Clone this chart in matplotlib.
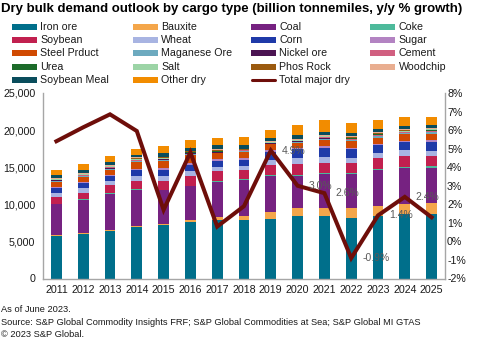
import matplotlib.pyplot as plt
from matplotlib.patches import Rectangle
from matplotlib.lines import Line2D
import numpy as np

plt.rcParams['font.family'] = ['Liberation Sans', 'DejaVu Sans']

years = ['2011', '2012', '2013', '2014', '2015', '2016', '2017', '2018',
         '2019', '2020', '2021', '2022', '2023', '2024', '2025']

# billion tonnemiles
iron_ore = [5730, 6000, 6400, 6940, 7200, 7600, 7900, 7900, 8000, 8430, 8430, 8150, 8430, 8700, 8700]
bauxite = [80, 130, 130, 130, 130, 270, 400, 540, 940, 1080, 1080, 1350, 1390, 1350, 1480]
coal = [4180, 4450, 4850, 4850, 4580, 4580, 4720, 4850, 4850, 4310, 4580, 4580, 4810, 4850, 4720]
coke = [60, 100, 80, 80, 80, 80, 80, 100, 100, 120, 100, 100, 100, 100, 200]
soybean = [940, 800, 1080, 1200, 1200, 1350, 1350, 1200, 1350, 1480, 1440, 1350, 1480, 1480, 1350]
wheat = [580, 670, 580, 670, 670, 670, 540, 540, 670, 800, 750, 670, 770, 800, 800]
corn = [630, 720, 670, 800, 800, 800, 800, 800, 1100, 1200, 1270, 1200, 1020, 1080, 1080]
sugar = [130, 100, 200, 130, 270, 270, 270, 270, 270, 200, 150, 150, 100, 130, 270]
steel = [720, 720, 670, 850, 940, 1080, 800, 850, 800, 670, 900, 940, 900, 940, 940]
manganese = [120, 120, 150, 150, 120, 120, 120, 100, 90, 120, 150, 150, 170, 150, 180]
nickel = [60, 70, 80, 80, 60, 60, 60, 50, 50, 60, 80, 80, 90, 80, 90]
cement = [60, 60, 80, 80, 70, 70, 70, 60, 50, 70, 80, 80, 90, 80, 100]
urea = [50, 50, 70, 70, 50, 50, 50, 40, 40, 50, 70, 70, 80, 70, 80]
salt = [70, 70, 90, 90, 70, 70, 70, 60, 50, 70, 90, 90, 100, 90, 110]
phos_rock = [60, 60, 80, 80, 70, 70, 70, 60, 50, 70, 80, 80, 90, 80, 100]
woodchip = [100, 110, 120, 120, 100, 100, 100, 80, 70, 100, 120, 120, 130, 120, 140]
soybean_meal = [400, 400, 360, 360, 540, 400, 580, 450, 400, 450, 400, 400, 360, 400, 400]
other_dry = [670, 770, 850, 800, 940, 1080, 900, 1120, 1080, 1350, 1600, 1350, 1250, 1200, 1080]

# y/y % growth of total major dry
growth = [5.4, 6.15, 6.85, 5.95, 1.7, 4.8, 0.8, 1.9, 4.9, 3.0, 2.6, -0.9, 1.4, 2.4, 1.3]
growth_labels = {8: '4.9%', 9: '3.0%', 10: '2.6%', 11: '-0.9%', 12: '1.4%', 13: '2.4%'}

series = [
    ('Iron ore', iron_ore, '#006F8B'),
    ('Bauxite', bauxite, '#F4A64A'),
    ('Coal', coal, '#762281'),
    ('Coke', coke, '#4DBA9B'),
    ('Soybean', soybean, '#C1204F'),
    ('Wheat', wheat, '#A8B4E2'),
    ('Corn', corn, '#1F3AA8'),
    ('Sugar', sugar, '#B383C2'),
    ('Steel Prduct', steel, '#D04A02'),
    ('Maganese Ore', manganese, '#6DAABF'),
    ('Nickel ore', nickel, '#4B1452'),
    ('Cement', cement, '#D15F80'),
    ('Urea', urea, '#1C6B2A'),
    ('Salt', salt, '#9CD4A6'),
    ('Phos Rock', phos_rock, '#9B5A0F'),
    ('Woodchip', woodchip, '#E9AE90'),
    ('Soybean Meal', soybean_meal, '#0A4D5C'),
    ('Other dry', other_dry, '#F28C00'),
]
line_color = '#6E0E0A'

W, H = 478, 342
fig = plt.figure(figsize=(W / 100, H / 100), dpi=100)

def fx(x):
    return x / W

def fy(y):
    return 1 - y / H

ax = fig.add_axes([fx(43), fy(278.5), fx(445) - fx(43), fy(93) - fy(278.5)])
x = np.arange(len(years))
bottom = np.zeros(len(years))
for name, vals, col in series:
    ax.bar(x, vals, bottom=bottom, width=0.41, color=col, linewidth=0)
    bottom += np.array(vals)

ax.set_xlim(-0.5, len(years) - 0.5)
ax.set_ylim(0, 25000)
ax.set_yticks(range(0, 25001, 5000))
ax.set_yticklabels([f'{v:,}' for v in range(0, 25001, 5000)])
ax.set_xticks(x)
ax.set_xticklabels(years)
ax.tick_params(axis='both', length=0, labelsize=7.7, colors='#1a1a1a')
ax.tick_params(axis='y', pad=5.5)
ax.tick_params(axis='x', pad=5)

ax2 = ax.twinx()
ax2.plot(x, growth, color=line_color, linewidth=2.9, solid_joinstyle='miter')
ax2.set_ylim(-2, 8)
ax2.set_yticks(range(-2, 9))
ax2.set_yticklabels([f'{v}%' for v in range(-2, 9)])
ax2.tick_params(axis='y', length=0, labelsize=7.7, colors='#1a1a1a', pad=1.5)
for i, lab in growth_labels.items():
    ax2.annotate(lab, (x[i], growth[i]), xytext=(8, 0), textcoords='offset points',
                 ha='left', va='center', fontsize=7.5, color='#595959')

for a in (ax, ax2):
    a.spines['top'].set_visible(False)
    for s in ('left', 'right', 'bottom'):
        a.spines[s].set_color('#A6A6A6')
        a.spines[s].set_linewidth(1.0)
ax.spines['right'].set_visible(False)
ax2.spines['left'].set_visible(False)
ax2.spines['bottom'].set_visible(False)

fig.text(fx(1), fy(9), 'Dry bulk demand outlook by cargo type (billion tonnemiles, y/y % growth)',
         fontsize=9.5, fontweight='bold', va='center', ha='left')

# legend laid out row by row, four columns
col_x = [12, 132.7, 250.7, 370]
row_y = [26.7, 40, 53.3, 66.7, 80.3]
entries = [(n, c) for n, _, c in series] + [('Total major dry', line_color)]
for i, (name, col) in enumerate(entries):
    cx, ry = col_x[i % 4], row_y[i // 4]
    if name == 'Total major dry':
        fig.add_artist(Line2D([fx(cx + 1), fx(cx + 24)], [fy(ry), fy(ry)], color=col,
                              linewidth=2.2, solid_capstyle='round', transform=fig.transFigure))
    else:
        fig.add_artist(Rectangle((fx(cx), fy(ry + 2.8)), fx(25.3), 5.6 / H, color=col,
                                 linewidth=0, transform=fig.transFigure))
    fig.text(fx(cx + 28.5), fy(ry), name, fontsize=7.7, va='center', ha='left', color='#1a1a1a')

notes = ['As of June 2023.',
         'Source: S&P Global Commodity Insights FRF; S&P Global Commodities at Sea; S&P Global MI GTAS',
         '\u00a9 2023 S&P Global.']
for ny, t in zip([310, 322.5, 334.5], notes):
    fig.text(fx(1), fy(ny), t, fontsize=6.7, va='center', ha='left', color='#1a1a1a')

fig.savefig('out.png', dpi=100)
